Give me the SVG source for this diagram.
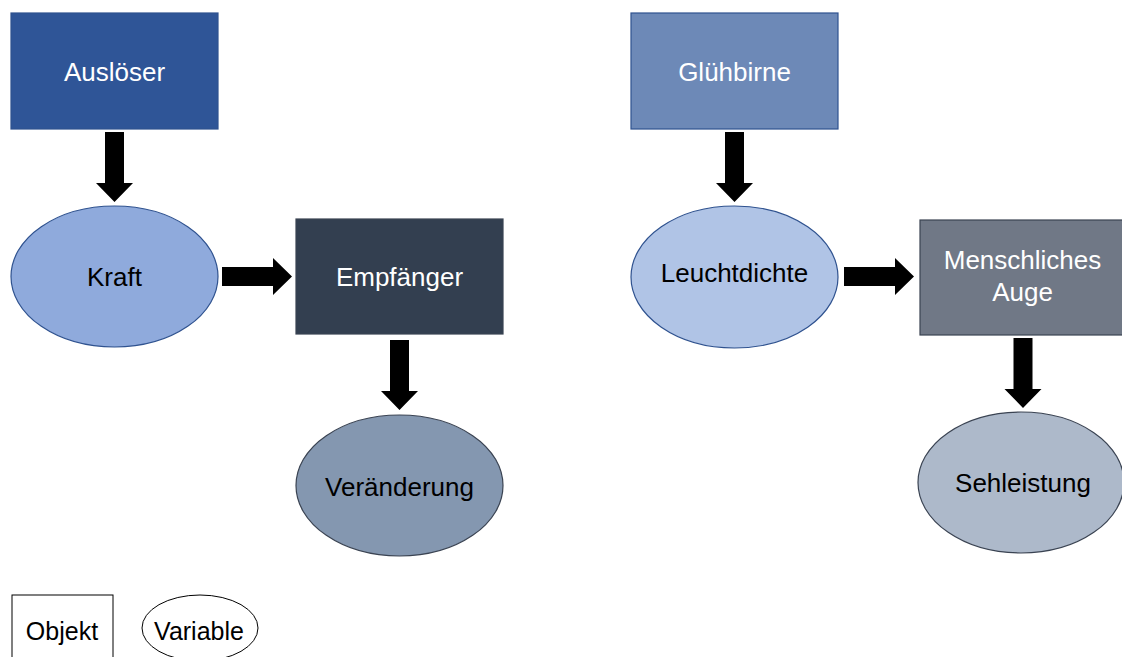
<svg xmlns="http://www.w3.org/2000/svg" width="1122" height="657" viewBox="0 0 1122 657">
  <style>
    text { font-family: "Liberation Sans", Arial, sans-serif; font-size: 26px; text-anchor: middle; }
    .light { fill: #ffffff; }
    .dark { fill: #000000; }
    .edge-blue { stroke: #2F528F; stroke-width: 1.2; }
    .edge-gray { stroke: #3A4352; stroke-width: 1.2; }
    .arrow { fill: #000000; }
    .legend { fill: #ffffff; stroke: #000000; stroke-width: 1; }
    .legend-text { font-size: 25px; fill: #000000; }
  </style>
  <defs>
    <!-- block arrows, drawn with the tip at the origin -->
    <path id="down-arrow" d="M-9.5,-70 H9.5 V-19 H18.5 L0,0 L-18.5,-19 H-9.5 Z"/>
    <path id="right-arrow" d="M-70,-9.5 V9.5 H-19 V18.5 L0,0 L-19,-18.5 V-9.5 Z"/>
  </defs>
  <rect width="1122" height="657" fill="#ffffff"/>

  <!-- left chain -->
  <g id="ausloeser">
    <rect x="11" y="13" width="207" height="116" fill="#2F5597" class="edge-blue"/>
    <text x="114.5" y="81" class="light">Auslöser</text>
  </g>
  <g id="kraft">
    <ellipse cx="114.5" cy="276.5" rx="103.5" ry="70.5" fill="#8FAADC" class="edge-blue"/>
    <text x="114.5" y="286" class="dark">Kraft</text>
  </g>
  <g id="empfaenger">
    <rect x="296" y="219" width="207" height="115" fill="#333F50" class="edge-gray"/>
    <text x="399.5" y="286" class="light">Empfänger</text>
  </g>
  <g id="veraenderung">
    <ellipse cx="399.5" cy="485.5" rx="103.5" ry="70.5" fill="#8497B0" class="edge-gray"/>
    <text x="399.5" y="496" class="dark">Veränderung</text>
  </g>

  <!-- right chain -->
  <g id="gluehbirne">
    <rect x="631" y="13" width="207" height="116" fill="#6D89B7" class="edge-blue"/>
    <text x="734.5" y="81" class="light">Glühbirne</text>
  </g>
  <g id="leuchtdichte">
    <ellipse cx="734.5" cy="277" rx="103.5" ry="71" fill="#B0C4E6" class="edge-blue"/>
    <text x="734.5" y="282" class="dark">Leuchtdichte</text>
  </g>
  <g id="menschliches-auge">
    <rect x="920" y="220" width="206" height="115" fill="#707886" class="edge-gray"/>
    <text x="1022.5" y="269" class="light">Menschliches</text>
    <text x="1022.5" y="301" class="light">Auge</text>
  </g>
  <g id="sehleistung">
    <ellipse cx="1021" cy="482.5" rx="103" ry="70.5" fill="#ADB9CA" class="edge-gray"/>
    <text x="1023" y="492" class="dark">Sehleistung</text>
  </g>

  <!-- connectors -->
  <g id="connectors" class="arrow">
    <use href="#down-arrow" x="114.5" y="202"/>
    <use href="#right-arrow" x="292" y="276.5"/>
    <use href="#down-arrow" x="399.5" y="410"/>
    <use href="#down-arrow" x="734.5" y="202"/>
    <use href="#right-arrow" x="914" y="276.5"/>
    <use href="#down-arrow" x="1023" y="408"/>
  </g>

  <!-- legend -->
  <g id="legend-objekt">
    <rect x="12" y="595" width="101" height="70" class="legend"/>
    <text x="62" y="640" class="legend-text">Objekt</text>
  </g>
  <g id="legend-variable">
    <ellipse cx="200" cy="628" rx="58" ry="33" class="legend"/>
    <text x="199" y="640" class="legend-text">Variable</text>
  </g>
</svg>
